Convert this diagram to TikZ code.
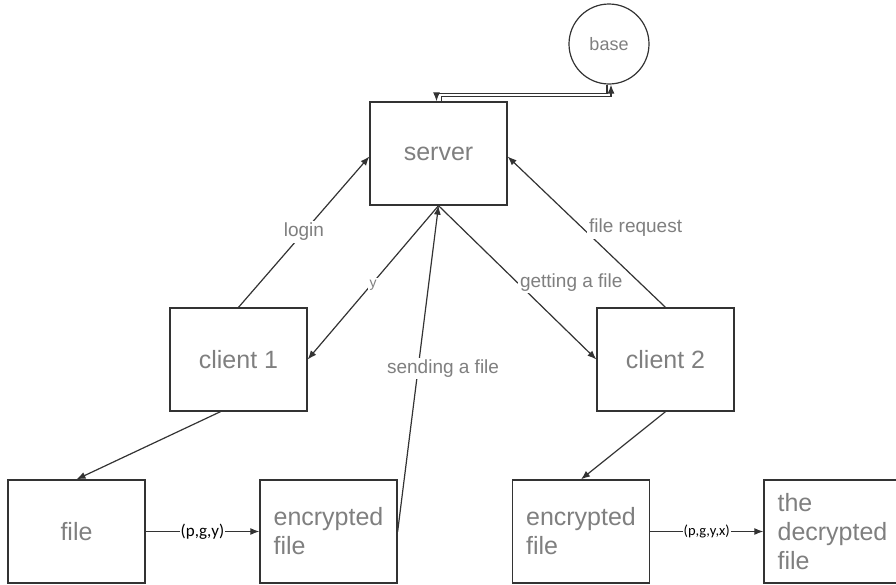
\documentclass[tikz,border=0pt]{standalone}
\usepackage{fontspec}
\setmainfont{Liberation Sans}
\newfontfamily\tuplefont{Carlito}
\usepackage{tikz}
\usetikzlibrary{calc, arrows.meta}
\definecolor{txt}{HTML}{7F7F7F}
\definecolor{ln}{HTML}{333333}
\tikzset{
  box/.style={draw=ln, line width=1.3pt, minimum width=137, minimum height=103,
    inner sep=0pt, align=left, text=txt, font=\fontsize{25}{29}\selectfont},
  lbl/.style={fill=white, inner sep=2pt, text=txt, font=\fontsize{19}{22}\selectfont},
  tup/.style={fill=white, inner sep=1pt, text=black, font=\tuplefont\fontsize{#1}{#1}\selectfont},
  wire/.style={ln, line width=1.2pt}
}

\begin{document}
\begin{tikzpicture}[x=1pt, y=-1pt, >={Latex[length=9pt, width=7pt]}, ->]
    \useasboundingbox (0,0) rectangle (896,584);

    \node[box] (s) at (438.5, 153.5) {server};
    \node[draw=ln, line width=1.2pt, circle, minimum size=80, inner sep=0pt, text=txt,
      font=\fontsize{18}{20}\selectfont] (b) at (609, 44) {base};
    \node[box] (c1) at (238.5, 359.5) {client 1};
    \node[box] (c2) at (665.5, 359.5) {client 2};
    \node[box] (f) at (76.5, 531.5) {file};
    \node[box] (e1) at (328.5, 531.5) {encrypted\\file};
    \node[box] (e2) at (581, 531.5) {encrypted\\file};
    \node[box] (d) at (832.5, 531.5) {the\\decrypted\\file};

    \draw[wire] ($(s.north)+(3,0)$) -- ++(0,-5) -| ($(b.south)+(2,0)$);
    \draw[wire] ($(b.south)+(-2,0)$) -- ++(0,9) -| ($(s.north)+(-2,0)$);

    \draw[wire] (c1.north) -- ($(s.west)+(0,3)$) node[midway, lbl]{login};
    \draw[wire] (s.south) -- (c1.east)
      node[midway, yshift=-3pt, lbl, font=\fontsize{14}{16}\selectfont]{y};
    \draw[wire] (e1.east) -- (s.south)
      node[pos=0.5, xshift=25pt, lbl]{sending a file};
    \draw[wire] (s.south) -- (c2.west)
      node[pos=0.5, anchor=west, lbl]{getting a file};
    \draw[wire] (c2.north) -- ($(s.east)+(0,3)$)
      node[pos=0.5, anchor=west, yshift=4pt, lbl]{file request};

    \foreach \k/\l/\dx in {c1/f/-18, c2/e2/0}{\draw[wire] ($(\k.south)+(\dx,0)$) -- (\l.north);}
    \draw[wire] (f.east) -- (e1.west) node[midway, tup=17]{(p,g,y)};
    \draw[wire] (e2.east) -- (d.west) node[midway, tup=14.5]{(p,g,y,x)};
\end{tikzpicture}
\end{document}
